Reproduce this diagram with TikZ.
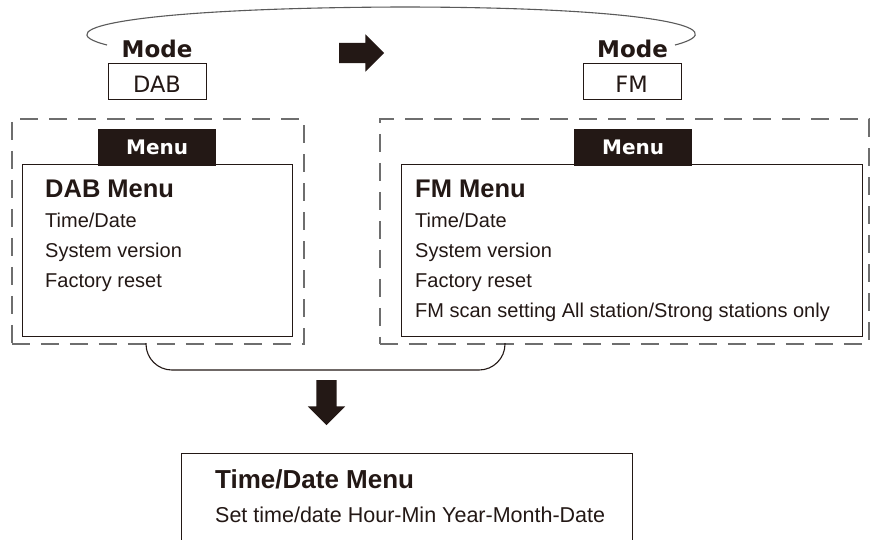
\documentclass[tikz,border=0pt]{standalone}
\usepackage{fontspec}
\setmainfont{Liberation Sans}
\newfontfamily\modefont{DejaVu Sans}
\usepackage{tikz}
\usetikzlibrary{shapes.arrows,positioning}
\definecolor{inkblack}{HTML}{231815}
\definecolor{dashgray}{HTML}{6E6E6E}
\definecolor{loopgray}{HTML}{5A5A5A}

\tikzset{
  modelabel/.style={anchor=base,inner sep=0pt,text=inkblack,font=\modefont\bfseries\fontsize{23}{23}\selectfont},
  modebox/.style={draw=inkblack,line width=1.3pt,anchor=north west,minimum width=98pt,minimum height=36pt,inner sep=0pt},
  modename/.style={anchor=base,inner sep=0pt,text=inkblack,font=\modefont\fontsize{22.5}{22.5}\selectfont},
  groupbox/.style={draw=dashgray,line width=1.5pt,dash pattern=on 18pt off 11pt,anchor=north west,inner sep=0pt,minimum height=225pt},
  menubox/.style={draw=inkblack,line width=1.3pt,fill=white,anchor=north west,inner sep=0pt,minimum height=172pt},
  menutab/.style={fill=inkblack,text=white,anchor=north west,inner sep=0pt,minimum width=118pt,minimum height=37pt,font=\modefont\bfseries\fontsize{20}{20}\selectfont},
  heading/.style={anchor=base west,inner sep=0pt,text=inkblack,font=\bfseries\fontsize{25.5}{25.5}\selectfont},
  entry/.style={anchor=base west,inner sep=0pt,text=inkblack,font=\fontsize{20}{20}\selectfont},
  blockarrow/.style={single arrow,fill=inkblack,inner xsep=0pt,inner ysep=10pt,minimum height=45pt,single arrow head extend=8.5pt,single arrow head indent=0pt},
  thinline/.style={draw=loopgray,line width=1.1pt}
}

\begin{document}
\begin{tikzpicture}[x=1pt,y=-1pt]
\useasboundingbox (0,0) rectangle (872,539);
\clip (0,0) rectangle (872,539);
\fill[white] (0,0) rectangle (872,539);

% modes on top
\node[modelabel] (dabmode) at (157,57) {Mode};
\node[modebox] (dabbox) at (108,63) {};
\node[modename] (dabname) at (157,92) {DAB};
\node[modelabel] (fmmode) at (632.5,57) {Mode};
\node[modebox] (fmbox) at (583,63) {};
\node[modename] (fmname) at (631.5,92) {FM};
\node[blockarrow] (nextmode) at (356.5,53) {};
\coordinate (loopstart) at (107,45);
\coordinate (looptop) at (400,7);
\coordinate (loopend) at (675,45);
\draw[thinline] (loopstart) .. controls (40,28) and (140,8) .. (looptop) .. controls (650,7) and (740,28) .. (loopend);

% DAB menu
\node[groupbox,minimum width=292pt] (dabgroup) at (11,118) {};
\node[menubox,minimum width=270pt] (dabmenu) at (22,164) {};
\node[menutab] (dabtab) at (98,129) {Menu};
\node[heading] (dabhead) at (45,197) {DAB Menu};
\node[entry] (dabtime) at (45,227) {Time/Date};
\node[entry] (dabsys) at (45,257) {System version};
\node[entry] (dabreset) at (45,287) {Factory reset};

% FM menu
\node[groupbox,minimum width=489pt] (fmgroup) at (379,118) {};
\node[menubox,minimum width=461pt] (fmmenu) at (401,164) {};
\node[menutab] (fmtab) at (574,129) {Menu};
\node[heading] (fmhead) at (415,197) {FM Menu};
\node[entry] (fmtime) at (415,227) {Time/Date};
\node[entry] (fmsys) at (415,257) {System version};
\node[entry] (fmreset) at (415,287) {Factory reset};
\node[entry] (fmscan) at (415,317) {FM scan setting All station/Strong stations only};

% join and time/date menu
\coordinate (dabfoot) at (146,343);
\coordinate (fmfoot) at (505,343);
\draw[thinline,draw=inkblack,rounded corners=26pt] (dabfoot) |- (fmfoot |- 0,370) -- (fmfoot);
\node[blockarrow,rotate=-90] (tosetting) at (326.5,397.5) {};
\node[menubox,minimum width=451pt,minimum height=120pt] (timebox) at (181,453) {};
\node[heading,font=\bfseries\fontsize{26}{26}\selectfont] (timehead) at (215,488) {Time/Date Menu};
\node[entry,font=\fontsize{21.5}{21.5}\selectfont] (timeset) at (215,522) {Set time/date Hour-Min Year-Month-Date};
\end{tikzpicture}
\end{document}
